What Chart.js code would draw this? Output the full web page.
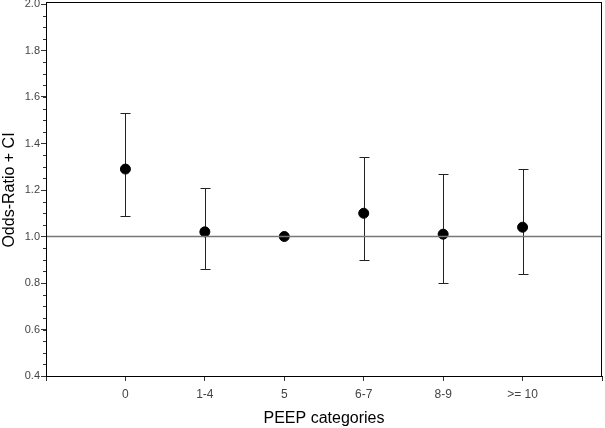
<!DOCTYPE html>
<html>
<head>
<meta charset="utf-8">
<script src="https://cdn.jsdelivr.net/npm/chart.js@4"></script>
<style>
  html, body { margin: 0; padding: 0; background: #fff; }
  #wrap { width: 605px; height: 428px; }
</style>
</head>
<body>
<div id="wrap"><canvas id="grafico" width="605" height="428"></canvas></div>
<script>
// dados
const categorias = ['0', '1-4', '5', '6-7', '8-9', '>= 10'];
const oddsRatio = [1.29, 1.02, 1.00, 1.10, 1.01, 1.04];
const icInferior = [1.09, 0.86, null, 0.90, 0.80, 0.84];
const icSuperior = [1.53, 1.21, null, 1.34, 1.27, 1.29];
const linhaReferencia = 1.0;
const ticksMaioresY = [0.4, 0.6, 0.8, 1.0, 1.2, 1.4, 1.6, 1.8, 2.0];
const passoMenorY = 0.05;

const pontos = oddsRatio.map((v, i) => ({ x: i + 1, y: v }));

// barras de erro, desenhadas com as escalas do grafico
const barrasErro = {
  id: 'barrasErro',
  beforeDatasetsDraw(chart) {
    const ctx = chart.ctx;
    const x = chart.scales.x, y = chart.scales.y;
    ctx.save();
    ctx.strokeStyle = '#222';
    ctx.lineWidth = 1;
    icInferior.forEach((lo, i) => {
      const hi = icSuperior[i];
      if (lo == null || hi == null) return;
      const px = Math.round(x.getPixelForValue(i + 1)) + 0.5;
      const pLo = Math.round(y.getPixelForValue(lo)) + 0.5;
      const pHi = Math.round(y.getPixelForValue(hi)) + 0.5;
      ctx.beginPath();
      ctx.moveTo(px, pLo); ctx.lineTo(px, pHi);
      ctx.moveTo(px - 5, pLo); ctx.lineTo(px + 5, pLo);
      ctx.moveTo(px - 5, pHi); ctx.lineTo(px + 5, pHi);
      ctx.stroke();
    });
    ctx.restore();
  }
};

// moldura e ticks menores do eixo y
const moldura = {
  id: 'moldura',
  afterDraw(chart) {
    const ctx = chart.ctx;
    const a = chart.chartArea;
    const y = chart.scales.y;
    ctx.save();
    ctx.strokeStyle = '#000';
    ctx.lineWidth = 1;
    ctx.strokeRect(Math.round(a.left) + 0.5, Math.round(a.top) - 1.5,
      Math.round(a.right - a.left) - 1, Math.round(a.bottom - a.top) + 2);
    ctx.strokeStyle = '#333';
    ctx.beginPath();
    for (let v = y.min; v <= y.max + 1e-9; v += passoMenorY) {
      const py = Math.round(y.getPixelForValue(v)) + 0.5;
      ctx.moveTo(a.left - 3, py); ctx.lineTo(a.left, py);
    }
    ctx.stroke();
    ctx.restore();
  }
};

new Chart(document.getElementById('grafico'), {
  type: 'scatter',
  data: {
    datasets: [
      {
        label: 'Referencia',
        type: 'line',
        data: [{ x: 0, y: linhaReferencia }, { x: 7, y: linhaReferencia }],
        borderColor: '#777',
        borderWidth: 1.5,
        pointRadius: 0
      },
      {
        label: 'Odds-Ratio',
        data: pontos,
        backgroundColor: '#000',
        borderColor: '#000',
        pointRadius: 5,
        pointHoverRadius: 5
      }
    ]
  },
  options: {
    responsive: false,
    animation: false,
    layout: { autoPadding: false, padding: { top: 4, right: 3, left: 0, bottom: 0 } },
    plugins: { legend: { display: false }, tooltip: { enabled: false } },
    scales: {
      x: {
        type: 'linear',
        min: 0,
        max: 7,
        afterBuildTicks: (s) => { s.ticks = [0, 1, 2, 3, 4, 5, 6, 7].map(v => ({ value: v })); },
        afterFit: (s) => { s.height = 52; s.paddingLeft = 0; s.paddingRight = 0; },
        ticks: {
          callback: (v) => categorias[v - 1] || '',
          color: '#444',
          font: { family: 'Liberation Sans', size: 12 },
          padding: 6,
          maxRotation: 0
        },
        grid: { drawOnChartArea: false, tickLength: 5, color: '#333' },
        border: { color: '#000' },
        title: {
          display: true,
          text: 'PEEP categories',
          color: '#000',
          font: { family: 'Liberation Sans', size: 16 },
          padding: { top: 5, bottom: 0 }
        }
      },
      y: {
        min: 0.4,
        max: 2.0,
        afterBuildTicks: (s) => { s.ticks = ticksMaioresY.map(v => ({ value: v })); },
        afterFit: (s) => { s.width = 46; s.paddingTop = 0; s.paddingBottom = 0; },
        ticks: {
          callback: (v) => v.toFixed(1),
          color: '#444',
          font: { family: 'Liberation Sans', size: 11 },
          padding: 1
        },
        grid: { drawOnChartArea: false, tickLength: 5, color: '#333' },
        border: { color: '#000' },
        title: {
          display: true,
          text: 'Odds-Ratio + CI',
          color: '#000',
          font: { family: 'Liberation Sans', size: 16 },
          padding: { top: 0, bottom: 2 }
        }
      }
    }
  },
  plugins: [barrasErro, moldura]
});
</script>
</body>
</html>
